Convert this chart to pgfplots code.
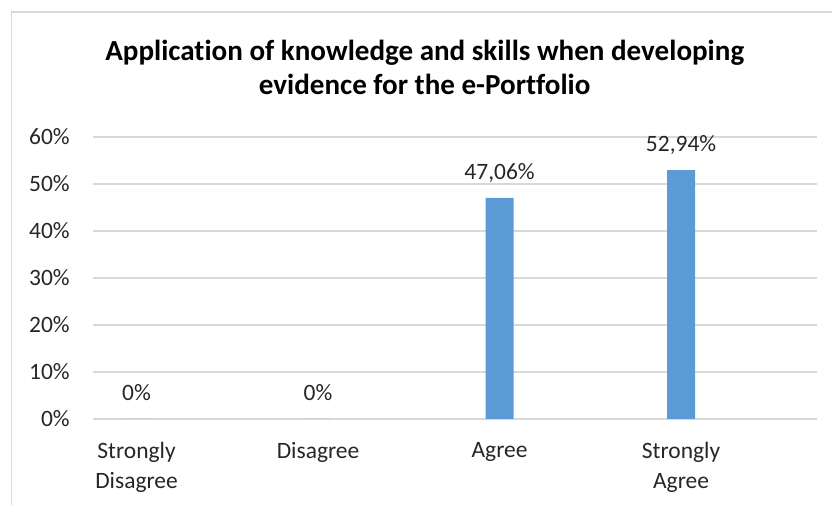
\documentclass[border=0pt]{standalone}
\usepackage{pgfplots}
\pgfplotsset{compat=1.18}
\usepackage{fontspec}
\setmainfont{Carlito}[Ligatures=NoCommon]
\definecolor{barblue}{HTML}{5B9BD5}
\definecolor{gridgray}{HTML}{D9D9D9}
\definecolor{txt}{HTML}{262626}
\begin{document}
\begin{tikzpicture}
\path[use as bounding box] (0,0) rectangle (624pt,378.75pt);
\draw[gridgray, line width=1.1pt] (8.75pt,-10pt) -- (8.75pt,369.9pt) -- (640pt,369.9pt);
\node[anchor=base, font=\fontsize{21.8}{26}\selectfont\bfseries, text=black] at (318.5pt,333pt) {Application of knowledge and skills when developing};
\node[anchor=base, font=\fontsize{21.8}{26}\selectfont\bfseries, text=black] at (318.5pt,307.5pt) {evidence for the e-Portfolio};
\begin{axis}[
  at={(69.75pt,64.5pt)}, anchor=south west,
  scale only axis, width=543pt, height=211.5pt,
  xmin=-0.24, xmax=3.749, ymin=0, ymax=60,
  axis line style={draw=none},
  major tick length=0pt,
  ymajorgrids, major grid style={gridgray, line width=0.8pt},
  ytick={0,10,20,30,40,50,60},
  yticklabels={0\%,10\%,20\%,30\%,40\%,50\%,60\%},
  xtick={0,1,2,3},
  xticklabels={Strongly\\Disagree, Disagree, Agree, Strongly\\Agree},
  yticklabel style={anchor=east, inner sep=0pt, xshift=-17.25pt, font=\fontsize{17.6}{21.75}\selectfont, text=txt},
  xticklabel style={anchor=north, align=center, inner sep=0pt, yshift=-17.5pt, font=\fontsize{17.6}{22}\selectfont, text=txt},
  ybar, bar width=21pt,
  nodes near coords,
  point meta=explicit symbolic,
  every node near coord/.append style={anchor=base, inner sep=0pt, yshift=14pt, font=\fontsize{17.6}{21.75}\selectfont, text=txt},
  clip=false,
]
\addplot[fill=barblue, draw=none] table[meta=label] {
x y label
0 0 0\%
1 0 0\%
2 47.06 47,06\%
3 52.94 52,94\%
};
\end{axis}
\end{tikzpicture}
\end{document}
